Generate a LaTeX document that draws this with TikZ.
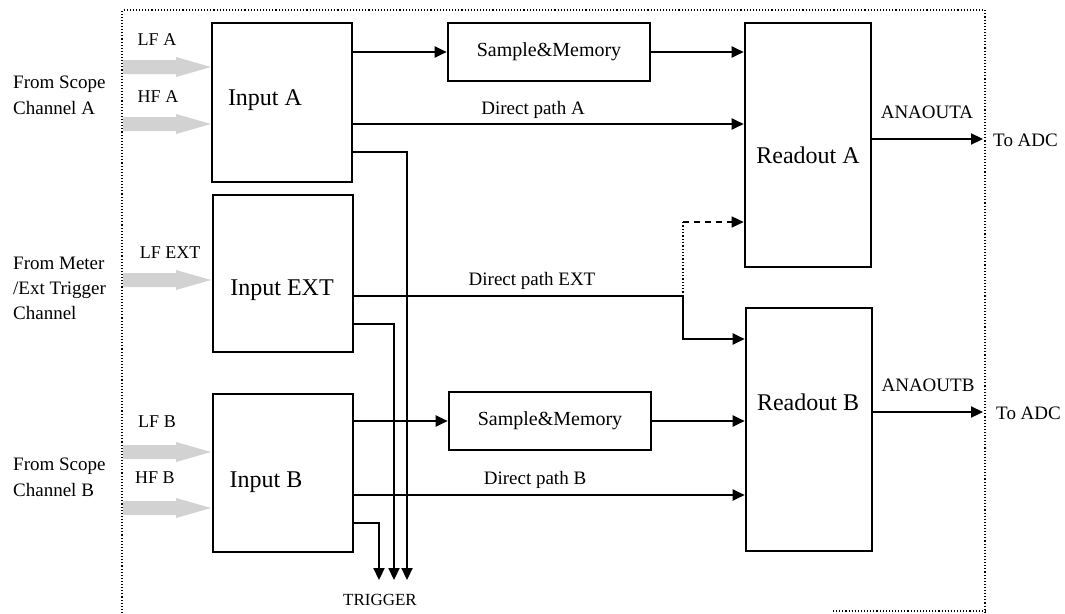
\documentclass[tikz,border=0pt]{standalone}
\usepackage{fontspec}
\setmainfont{Liberation Serif}
\usetikzlibrary{arrows.meta}
\begin{document}
\begin{tikzpicture}[x=1pt,y=-1pt,
  box/.style={draw, line width=2.6pt, minimum width=#1, inner sep=0pt},
  sig/.style={line width=2.2pt, -{Triangle[length=12pt,width=11pt]}},
  wire/.style={line width=2.2pt},
  frame/.style={dotted, line width=1.1pt},
  boxtxt/.style={font=\fontsize{24}{28}\selectfont},
  lbl/.style={font=\fontsize{19}{23}\selectfont, inner sep=0pt},
  sml/.style={font=\fontsize{18}{22}\selectfont, inner sep=0pt},
  fat/.style={fill=gray!35, draw=none}
]
\useasboundingbox (0,0) rectangle (1065,613);
% frame
\draw[frame] (122,613) -- (122,10) -- (985,10) -- (985,613);
\draw[frame] (833,611) -- (985,611);

% blocks
\node[box=140pt, minimum height=159pt] (inA) at (282,102.5) {};
\node[box=140pt, minimum height=157pt] (inE) at (283,273.5) {};
\node[box=140pt, minimum height=158pt] (inB) at (283,473) {};
\node[box=202pt, minimum height=58pt, font=\fontsize{20}{24}\selectfont] (smA) at (549,52) {Sample\&Memory};
\node[box=202pt, minimum height=58pt, font=\fontsize{20}{24}\selectfont] (smB) at (550,421) {Sample\&Memory};
\node[box=126pt, minimum height=244pt] (roA) at (808,145) {};
\node[box=126pt, minimum height=243pt] (roB) at (809,429.5) {};

\node[boxtxt] (tinA) at (265,100) {Input A};
\node[boxtxt] (tinE) at (282,290) {Input EXT};
\node[boxtxt] (tinB) at (266,482) {Input B};
\node[boxtxt] (troA) at (808,155) {Readout A};
\node[boxtxt] (troB) at (808,402) {Readout B};

% input fat arrows
\foreach \yy in {67,124,280,452,508}{
  \fill[fat] (123,\yy-7) -- (176,\yy-7) -- (176,\yy-10) -- (211,\yy) -- (176,\yy+10) -- (176,\yy+7) -- (123,\yy+7) -- cycle;
}
\node[sml] (lfa) at (157,40) {LF A};
\node[sml] (hfa) at (158,97) {HF A};
\node[sml] (lfe) at (170,253) {LF EXT};
\node[sml] (lfb) at (157,422) {LF B};
\node[sml] (hfb) at (155,478) {HF B};

\node[lbl, align=left, anchor=west, font=\fontsize{19}{26}\selectfont] (srcA) at (13,95) {From Scope\\Channel A};
\node[lbl, align=left, anchor=west, font=\fontsize{19}{25}\selectfont] (srcE) at (13,288) {From Meter\\/Ext Trigger\\Channel};
\node[lbl, align=left, anchor=west, font=\fontsize{19}{26}\selectfont] (srcB) at (13,477) {From Scope\\Channel B};

% trigger endpoints
\coordinate (trB) at (379,580);
\coordinate (trE) at (394,580);
\coordinate (trA) at (407,580);
\node[font=\fontsize{17}{20}\selectfont] (trig) at (380,600) {TRIGGER};

% channel A
\draw[sig] (inA.east |- smA.west) -- (smA.west);
\draw[sig] (smA.east) -- (roA.west |- smA.east);
\draw[sig] (inA.east |- 0,124) -- (roA.west |- 0,124);
\node[lbl] (dpa) at (533,110) {Direct path A};
\draw[sig] (inA.east |- 0,152) -| (trA);

% EXT
\coordinate (jE) at (683,296);
\coordinate (jU) at (683,222);
\draw[wire] (inE.east |- jE) -- (jE);
\draw[sig] (jE) |- (roB.west |- 0,339);
\draw[dotted, line width=1.3pt] (jE) -- (jU);
\draw[dashed, line width=1.3pt, dash pattern=on 6pt off 5pt, -{Triangle[length=12pt,width=11pt]}] (jU) -- (roA.west |- jU);
\node[lbl] (dpe) at (532,281) {Direct path EXT};
\draw[sig] (inE.east |- 0,324) -| (trE);

% channel B
\draw[sig] (inB.east |- smB.west) -- (smB.west);
\draw[sig] (smB.east) -- (roB.west |- smB.east);
\draw[sig] (inB.east |- 0,495) -- (roB.west |- 0,495);
\node[lbl] (dpb) at (535,480) {Direct path B};
\draw[sig] (inB.east |- 0,523) -| (trB);

% outputs
\coordinate (adcA) at (983,139);
\coordinate (adcB) at (983,412);
\draw[sig] (roA.east |- adcA) -- (adcA);
\draw[sig] (roB.east |- adcB) -- (adcB);
\node[lbl] (anaA) at (927,112) {ANAOUTA};
\node[lbl] (anaB) at (928,385) {ANAOUTB};
\node[lbl, anchor=west] (toA) at (993,140) {To ADC};
\node[lbl, anchor=west] (toB) at (996,413) {To ADC};
\end{tikzpicture}
\end{document}
